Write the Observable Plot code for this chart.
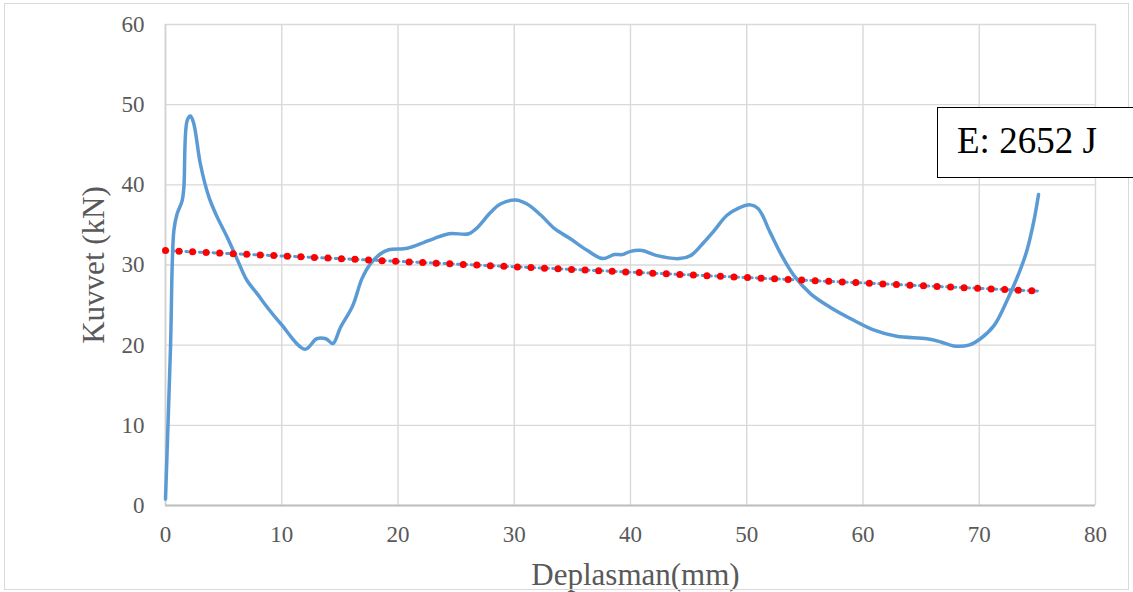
<!DOCTYPE html>
<html><head><meta charset="utf-8">
<script src="https://cdn.jsdelivr.net/npm/d3@7"></script>
<script src="https://cdn.jsdelivr.net/npm/@observablehq/plot@0.6"></script>
<style>
body{margin:0;background:#fff;}
#wrap{position:relative;width:1133px;height:592px;overflow:hidden;}
#frame{position:absolute;left:4px;top:3px;width:1125px;height:587px;border:1.5px solid #d9d9d9;box-sizing:border-box;pointer-events:none;}
#note{position:absolute;left:937px;top:107px;width:200px;height:71px;border:1.5px solid #000;background:#fff;box-sizing:border-box;font-family:"Liberation Serif","Times New Roman",serif;font-size:37px;color:#000;padding-left:19px;padding-top:14px;line-height:37px;}
</style></head>
<body><div id="wrap"><div id="frame"></div></div>
<script>
const dispX = [0,0.43,0.72,1.0,1.43,1.58,1.86,2.15,2.44,3.0,3.73,4.44,5.3,6.2,7.0,7.9,8.5,9.9,12.0,13.0,13.8,14.4,15.05,16.1,16.9,17.6,18.5,19.2,20.8,22.2,23.1,24.4,26.1,26.7,28.0,28.8,30.1,31.1,32.3,33.5,34.8,36.3,37.6,38.6,39.3,40.0,41.0,42.2,44.2,45.2,46.3,47.2,48.3,49.3,50.3,51.0,52.0,53.0,54.05,55.5,57.2,59.2,60.9,62.9,65.5,66.7,67.8,69.1,70.1,71.3,72.4,73.5,74.1,74.7,75.1];
const forceY = [0.8,19.7,34.3,36.4,38.0,39.7,48.0,48.6,47.6,42.6,38.5,36.0,33.5,30.6,28.1,26.4,25.2,22.7,19.5,20.8,20.8,20.2,22.2,24.9,28.3,30.1,31.4,31.9,32.1,32.8,33.3,33.9,33.9,34.5,36.6,37.6,38.1,37.6,36.2,34.5,33.3,31.8,30.8,31.3,31.3,31.7,31.8,31.2,30.8,31.2,32.8,34.3,36.2,37.1,37.5,37.0,34.1,31.2,28.7,26.4,24.7,23.1,21.9,21.1,20.8,20.4,19.9,20.0,20.8,22.5,25.6,29.3,31.8,35.5,38.8];
const trendX = [0, 75];
const trendY = [31.8, 26.75];
const xTicks = [0,10,20,30,40,50,60,70,80];
const yTicks = [0,10,20,30,40,50,60];
const xLabel = "Deplasman(mm)";
const yLabel = "Kuvvet (kN)";
const noteText = "E: 2652 J";

const curve = dispX.map((x,i)=>({x, y: forceY[i]}));
const trend = trendX.map((x,i)=>({x, y: trendY[i]}));

const chart = Plot.plot({
  width: 1133, height: 592,
  marginLeft: 165, marginRight: 38, marginTop: 24, marginBottom: 87,
  style: {fontFamily: '"Liberation Serif","Times New Roman",serif', fontSize: "23px", color: "#595959", background: "transparent", overflow: "visible"},
  x: {domain: [0, 80], ticks: xTicks, tickSize: 0, label: null, axis: null},
  y: {domain: [0, 60], ticks: yTicks, tickSize: 0, label: null, axis: null},
  marks: [
    Plot.gridX(xTicks, {stroke: "#d9d9d9", strokeOpacity: 1, strokeWidth: 1.4}),
    Plot.gridY(yTicks, {stroke: "#d9d9d9", strokeOpacity: 1, strokeWidth: 1.4}),
    Plot.ruleX([0], {stroke: "#d0d0d0", strokeWidth: 1.6}),
    Plot.ruleY([0], {stroke: "#bfbfbf", strokeWidth: 1.8}),
    Plot.axisX({ticks: xTicks, tickSize: 0, tickPadding: 20, fill: "#595959", label: null, fontSize: 23}),
    Plot.axisY({ticks: yTicks, tickSize: 0, tickPadding: 21, fill: "#595959", label: null, fontSize: 23}),
    Plot.line(curve, {x: "x", y: "y", stroke: "#5b9bd5", strokeWidth: 3.5, curve: "catmull-rom"}),
    Plot.line(trend, {x: "x", y: "y", stroke: "#5b9bd5", strokeWidth: 3, strokeDasharray: "2.5,4.3"}),
    Plot.line(trend, {x: "x", y: "y", stroke: "#ff0000", strokeWidth: 7, strokeLinecap: "round", strokeDasharray: "0,13.55"}),
    Plot.text([xLabel], {frameAnchor: "bottom", dx: 5, dy: 79, text: d => d, fontSize: 31, fill: "#595959"}),
    Plot.text([yLabel], {frameAnchor: "left", textAnchor: "middle", lineAnchor: "middle", dx: -71, rotate: -90, text: d => d, fontSize: 31, fill: "#595959"})
  ]
});
chart.style.position = "absolute";
chart.style.left = "0px";
chart.style.top = "0px";
const wrap = document.getElementById("wrap");
wrap.insertBefore(chart, wrap.firstChild);
const note = document.createElement("div");
note.id = "note";
note.textContent = noteText;
wrap.appendChild(note);
</script>
</body></html>
